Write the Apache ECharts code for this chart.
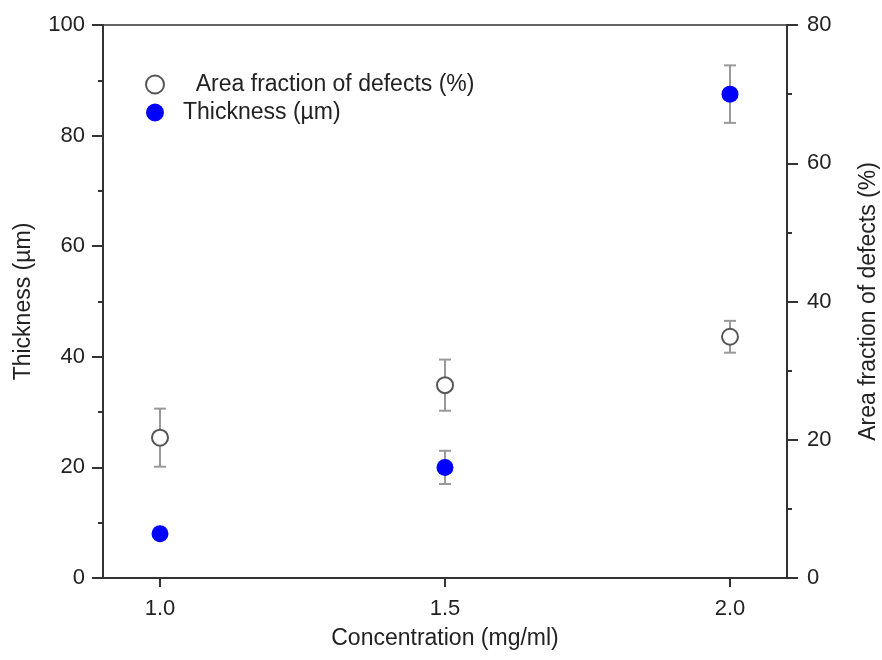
<!DOCTYPE html>
<html><head><meta charset="utf-8">
<script src="https://cdn.jsdelivr.net/npm/echarts@6/dist/echarts.min.js"></script>
<style>html,body{margin:0;padding:0;background:#fff}#c{width:882px;height:660px}</style>
</head><body><div id="c"></div>
<script>
const concentration = [1.0, 1.5, 2.0];
const thickness = [8, 20, 87.5];
const thicknessErr = [1, 3, 5.2];
const defects = [20.3, 27.9, 34.9];
const defectsErr = [4.2, 3.7, 2.3];
const thicknessTicks = [0, 20, 40, 60, 80, 100];
const defectsTicks = [0, 20, 40, 60, 80];
const legendNames = ['  Area fraction of defects (%)', 'Thickness (µm)'];

const font = 'Liberation Sans, Arial, sans-serif';
const axisColor = '#333';
const textColor = '#222';

function errData(vals, errs) {
  return concentration.map((x, i) => [x, vals[i] - errs[i], vals[i] + errs[i]]);
}
function errRender(params, api) {
  const x = api.value(0);
  const lo = api.coord([x, api.value(1)]);
  const hi = api.coord([x, api.value(2)]);
  const cap = 6;
  const style = { stroke: '#999', lineWidth: 2 };
  return {
    type: 'group',
    children: [
      { type: 'line', shape: { x1: lo[0], y1: lo[1], x2: hi[0], y2: hi[1] }, style },
      { type: 'line', shape: { x1: lo[0] - cap, y1: lo[1], x2: lo[0] + cap, y2: lo[1] }, style },
      { type: 'line', shape: { x1: hi[0] - cap, y1: hi[1], x2: hi[0] + cap, y2: hi[1] }, style }
    ]
  };
}

const chart = echarts.init(document.getElementById('c'));
chart.setOption({
  animation: false,
  backgroundColor: '#fff',
  grid: { left: 103, right: 95, top: 25, bottom: 82, show: true, borderColor: axisColor, borderWidth: 1.5, containLabel: false, outerBoundsMode: 'none' },
  legend: {
    orient: 'vertical', left: 140, top: 68, itemGap: 5, itemWidth: 18, itemHeight: 18,
    textStyle: { fontFamily: font, fontSize: 23, color: textColor, padding: [0, 0, 0, 14] },
    data: [
      { name: legendNames[0], icon: 'circle' },
      { name: legendNames[1], icon: 'circle' }
    ]
  },
  xAxis: {
    type: 'value', min: 0.9, max: 2.1,
    name: 'Concentration (mg/ml)', nameLocation: 'middle', nameGap: 49,
    nameTextStyle: { fontFamily: font, fontSize: 23, color: textColor },
    axisLine: { show: true, onZero: false, lineStyle: { color: axisColor, width: 2 } },
    axisTick: { show: true, length: 9, lineStyle: { color: axisColor, width: 2 }, customValues: concentration },
    axisLabel: { fontFamily: font, fontSize: 22, color: textColor, margin: 20, customValues: concentration, formatter: v => v.toFixed(1) },
    splitLine: { show: false }
  },
  yAxis: [
    {
      type: 'value', min: 0, max: 100, interval: 20, position: 'left',
      name: 'Thickness (µm)', nameLocation: 'middle', nameGap: 68,
      nameTextStyle: { fontFamily: font, fontSize: 23, color: textColor },
      axisLine: { show: true, lineStyle: { color: axisColor, width: 2 } },
      axisTick: { show: true, length: 11, lineStyle: { color: axisColor, width: 2 } },
      minorTick: { show: true, splitNumber: 2, length: 5, lineStyle: { color: axisColor, width: 2 } },
      axisLabel: { fontFamily: font, fontSize: 22, color: textColor, margin: 18, formatter: v => thicknessTicks.includes(v) ? String(v) : '' },
      splitLine: { show: false }
    },
    {
      type: 'value', min: 0, max: 80, interval: 20, position: 'right',
      name: 'Area fraction of defects (%)', nameLocation: 'middle', nameGap: 70,
      nameTextStyle: { fontFamily: font, fontSize: 23, color: textColor },
      axisLine: { show: true, lineStyle: { color: axisColor, width: 2 } },
      axisTick: { show: true, length: 11, lineStyle: { color: axisColor, width: 2 } },
      minorTick: { show: true, splitNumber: 2, length: 5, lineStyle: { color: axisColor, width: 2 } },
      axisLabel: { fontFamily: font, fontSize: 22, color: textColor, margin: 20, formatter: v => defectsTicks.includes(v) ? String(v) : '' },
      splitLine: { show: false }
    }
  ],
  series: [
    { type: 'custom', name: 'errT', yAxisIndex: 0, renderItem: errRender, data: errData(thickness, thicknessErr), z: 1, silent: true },
    { type: 'custom', name: 'errD', yAxisIndex: 1, renderItem: errRender, data: errData(defects, defectsErr), z: 1, silent: true },
    {
      type: 'scatter', name: legendNames[0], yAxisIndex: 1, symbol: 'circle', symbolSize: 16, z: 3,
      itemStyle: { color: '#fff', borderColor: '#555', borderWidth: 2, opacity: 1 },
      data: concentration.map((x, i) => [x, defects[i]])
    },
    {
      type: 'scatter', name: legendNames[1], yAxisIndex: 0, symbol: 'circle', symbolSize: 17, z: 3,
      itemStyle: { color: '#0000ff', opacity: 1 },
      data: concentration.map((x, i) => [x, thickness[i]])
    }
  ]
});
</script></body></html>
